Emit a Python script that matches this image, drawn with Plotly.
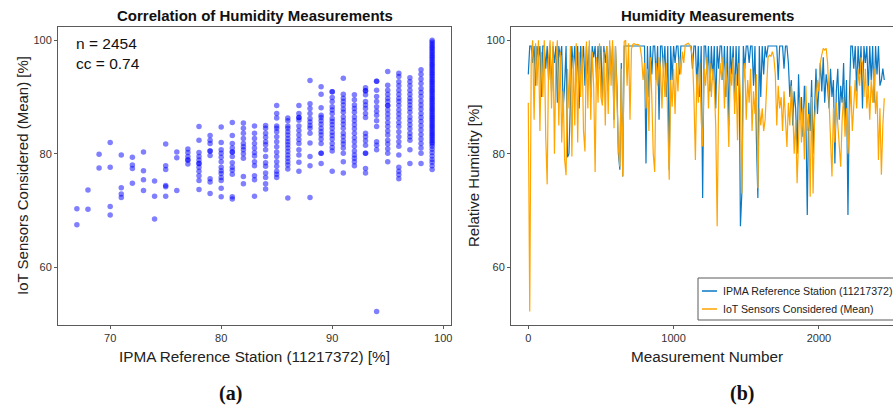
import plotly.graph_objects as go

# ---------------- Panel (a) data: scatter columns ----------------
ipma_levels = [67, 68, 69, 70, 71, 72, 73, 74, 75, 76, 77, 78, 79, 80, 81, 82, 83,
               84, 85, 86, 87, 88, 89, 90, 91, 92, 93, 94, 95, 96, 97, 98, 99]
iot_by_level = [
    [70.3, 67.5],
    [73.6, 70.2],
    [79.9, 77.5],
    [82.0, 77.6, 70.7, 69.2],
    [79.8, 74.0, 72.9, 72.3],
    [79.4, 78.0, 77.4, 74.8],
    [80.3, 77.0, 75.4, 73.5],
    [75.2, 72.5, 68.5],
    [81.7, 77.9, 77.2, 74.4, 74.2, 72.5],
    [80.3, 79.3, 73.5],
    [80.85, 80.2, 79.5, 78.9, 78.9, 78.2],
    [84.8, 82.4, 80.2, 79.5, 78.9, 78.3, 78.3, 77.6, 76.9, 76.1, 75.3, 73.7],
    [83.2, 82.4, 81.8, 80.5, 80.5, 79.7, 75.6, 75.0, 73.0],
    [84.7, 82.0, 80.7, 80.1, 79.4, 78.6, 77.6, 77.0, 76.5, 75.8, 75.3, 73.9, 72.4],
    [85.5, 83.2, 81.8, 81.0, 80.3, 80.3, 79.5, 78.4, 77.6, 77.1, 76.4, 72.4, 72.0],
    [85.4, 84.5, 83.6, 82.7, 81.8, 81.25, 80.7, 80.0, 79.2, 76.0, 74.7],
    [84.9, 83.6, 82.7, 81.8, 81.0, 80.2, 79.6, 78.6, 77.9, 76.1, 75.4, 72.5],
    [85.0, 84.5, 83.6, 82.9, 82.1, 81.6, 80.7, 79.5, 78.4, 77.8, 76.6, 75.8, 74.7, 73.8],
    [88.5, 87.1, 86.3, 84.9, 84.5, 83.9, 83.0, 82.1, 81.25, 80.3, 79.5, 78.6, 77.8, 76.9, 76.4, 75.8],
    [86.3, 85.8, 84.9, 84.5, 83.9, 83.3, 82.7, 82.1, 81.6, 81.0, 80.4, 79.8, 79.2, 78.6, 78.0, 77.3, 72.2],
    [88.5, 87.1, 86.4, 86.4, 85.9, 84.9, 84.1, 83.3, 82.5, 81.8, 80.7, 79.8, 78.5, 76.9],
    [92.9, 88.8, 88.0, 87.1, 86.2, 85.6, 85.0, 84.5, 83.6, 81.9, 79.5, 77.9, 72.3],
    [91.8, 90.5, 88.1, 86.8, 86.4, 85.8, 85.2, 84.5, 83.9, 83.3, 82.6, 81.8, 80.1, 80.1, 78.3],
    [90.95, 90.95, 89.9, 89.2, 88.3, 87.7, 87.1, 86.2, 85.7, 85.1, 84.5, 83.8, 83.2, 82.6,
     81.8, 81.1, 80.5, 76.9],
    [93.3, 90.5, 89.8, 89.2, 88.6, 87.9, 87.3, 86.5, 85.8, 85.2, 84.5, 83.6, 83.0, 82.3,
     81.7, 81.0, 80.1, 78.6, 76.6],
    [90.4, 89.5, 88.6, 88.0, 87.3, 86.5, 85.8, 85.1, 84.4, 83.6, 82.8, 82.1, 81.3, 80.5,
     79.8, 79.2, 78.6, 77.9],
    [91.65, 91.1, 91.1, 90.4, 89.2, 88.6, 88.0, 87.1, 86.4, 83.6, 83.0, 82.3, 81.5, 80.1,
     80.1, 77.4, 76.6],
    [92.8, 92.8, 91.2, 90.1, 89.2, 88.3, 87.5, 86.8, 85.8, 84.8, 82.1, 81.5, 80.7, 52.2],
    [94.5, 92.1, 91.2, 90.5, 89.8, 89.2, 88.5, 88.5, 87.7, 87.0, 86.3, 85.5, 84.8, 84.0,
     83.3, 82.4, 81.7, 80.9, 80.1, 78.6],
    [94.2, 93.6, 92.7, 92.0, 91.2, 90.5, 89.8, 89.2, 88.5, 87.7, 87.0, 86.3, 85.5, 84.8,
     83.9, 83.0, 82.1, 81.3, 79.8, 77.6, 76.9, 76.3, 75.6],
    [93.4, 92.7, 92.0, 91.2, 90.5, 89.8, 89.2, 88.6, 88.0, 87.3, 86.5, 85.8, 85.1, 84.4,
     83.6, 83.0, 82.4, 80.7, 78.3],
    [94.8, 94.0, 93.2, 92.4, 91.5, 90.8, 90.1, 89.3, 88.6, 87.9, 87.1, 86.4, 85.7, 84.95,
     84.2, 83.4, 82.6, 81.8, 81.0, 80.1, 78.3],
    [100.0, 99.7, 99.4, 99.1, 98.8, 98.5, 98.2, 97.9, 97.6, 97.3, 97.0, 96.7, 96.4, 96.1,
     95.8, 95.5, 95.2, 94.9, 94.6, 94.3, 94.0, 93.7, 93.4, 93.1, 92.8, 92.5, 92.2, 91.9,
     91.6, 91.3, 91.0, 90.7, 90.4, 90.1, 89.8, 89.5, 89.2, 88.9, 88.6, 88.3, 88.0, 87.7,
     87.4, 87.1, 86.8, 86.5, 86.2, 85.9, 85.6, 85.3, 85.0, 84.7, 84.4, 84.1, 83.8, 83.5,
     83.2, 82.9, 82.6, 82.3, 82.0, 81.7, 81.3, 80.8, 80.2, 79.6, 79.0, 78.5, 77.9, 77.2],
]
stat_n = 2454
stat_cc = 0.74

# ---------------- Panel (b) data: time series (every 10th measurement) ----------------
measurement_step = 10
iot_mean = [
    89, 52.2, 96, 100, 86, 99.5, 92, 100, 84, 98,
    90, 100, 83, 74.6, 97, 100, 88, 99.8, 80, 96,
    100, 85, 98, 82, 91, 79, 76.2, 95, 88, 99,
    79.5, 97, 85, 99.5, 82, 98, 90, 99, 84, 80.4,
    99.8, 88, 100, 86, 98, 92, 76.8, 97, 89, 99.5,
    90, 88.5, 98, 85, 99, 87, 100, 92, 100, 84.5,
    99, 90, 81, 77.7, 95, 76, 99.8, 100, 92, 99.5,
    86, 98.5, 99.3, 99.4, 99.2, 99.3, 99.2, 98.8, 97, 93,
    96, 88, 95, 84, 97, 90, 80, 76.8, 96, 92,
    97, 95, 88, 97, 90, 96, 85, 75.4, 93, 88.3,
    95, 87, 96, 91, 97, 94, 98, 96, 99.2, 99.4,
    99.5, 99.2, 98.5, 97, 90, 78.9, 94, 89, 96, 86,
    81.3, 95, 92, 97, 88, 96, 90, 95, 92, 85,
    67.2, 90, 96, 93, 97, 88, 96, 90, 81.2, 95,
    92, 97, 87, 94, 82.4, 96, 90, 73, 92, 96,
    86, 93, 89, 95, 84, 91, 87, 94, 73.9, 88,
    85, 88, 84, 86, 92, 97, 97.4, 97.2, 98, 97,
    94, 85, 92, 88, 90, 84, 91, 86, 81.2, 89,
    85, 92, 88, 80, 86, 74.8, 84, 90, 82, 88,
    79, 92, 84, 87, 72.4, 90, 73, 86, 89, 93,
    91, 96, 97.5, 98.6, 98.3, 98.6, 96, 90, 84, 76,
    88, 82, 89, 85, 80, 77.7, 86, 90, 83, 88,
    80, 86, 92, 84, 90, 93, 88, 95, 92, 97,
    96, 90, 95, 88, 92, 86, 93, 89, 95, 87,
    91, 78.9, 88, 76.3, 85, 89.8,
]
ipma_base = 99
ipma_dip_index = [
    0, 3, 5, 7, 9, 12, 14, 16, 18, 20, 22, 24, 25, 27, 28, 29, 31, 33, 35, 37,
    39, 41, 43, 45, 47, 49, 51, 53, 55, 57, 59, 61, 62, 63, 64, 65,
    81, 83, 85, 88, 90, 93, 95, 97, 99, 101, 104,
    113, 116, 118, 120, 123, 125, 127, 129, 131,
    134, 136, 138, 140, 142, 144, 146, 147, 149,
    152, 155, 157, 158, 160, 162, 164, 172, 176,
    179, 180, 181, 182, 183, 184, 185, 186, 187, 188, 189, 190, 191, 192, 193, 194,
    195, 196, 197, 198, 199, 200, 201, 202, 203, 204, 205, 206, 207, 208, 209, 210,
    211, 212, 213, 214, 215, 216, 217, 218, 219, 220, 221,
    224, 226, 228, 230, 232, 234, 236, 238, 240, 242, 243, 244, 245,
]
ipma_dip_value = [
    94, 96, 92, 97, 90, 95, 93, 91, 96, 89, 97, 88, 92, 79.4, 80, 90, 95, 93, 88, 96,
    92, 94, 90, 97, 93, 95, 89, 96, 91, 94, 86, 92, 80, 77.2, 96, 76,
    78.3, 90, 94, 93, 86, 95, 90, 77.2, 93, 96, 94,
    95, 92, 90, 72.2, 94, 91, 93, 88, 95,
    93, 90, 85, 94, 89, 92, 67.2, 73.3, 95,
    96, 92, 82.4, 72.2, 90, 94, 97, 93, 95,
    96, 90, 93, 85, 91, 88, 80, 94, 86, 90, 83, 92, 87, 69.2, 89, 84,
    93, 80, 90, 95, 87, 93, 96, 91, 97, 89, 94, 92, 88, 95, 90, 93,
    78.3, 91, 95, 86, 92, 89, 96, 85, 93, 69.2, 90,
    95, 91, 94, 88, 96, 91, 93, 89, 94, 92, 93, 95, 93,
]

# ---------------- build traces ----------------
sx, sy = [], []
for lvl, vals in zip(ipma_levels, iot_by_level):
    for v in vals:
        sx.append(lvl)
        sy.append(v)

n_pts = len(iot_mean)
meas = [i * measurement_step for i in range(n_pts)]
ipma_series = [ipma_base] * n_pts
for i, v in zip(ipma_dip_index, ipma_dip_value):
    ipma_series[i] = v

W, H = 893, 412
def px(x):
    return x / W
def py(y):
    return 1 - y / H

BLUE = "#0A78C2"
ORANGE = "#FFA500"
FRAME = "#5a5a5a"
FONT = "Liberation Sans, Arial, Helvetica, sans-serif"

fig = go.Figure()
fig.add_trace(go.Scatter(
    x=sx, y=sy, mode="markers",
    marker=dict(size=5.5, color="rgba(0,0,255,0.5)", line=dict(width=0)),
    xaxis="x", yaxis="y", showlegend=False, hoverinfo="skip"))
fig.add_trace(go.Scatter(
    x=meas, y=ipma_series, mode="lines", line=dict(color=BLUE, width=1.2),
    xaxis="x2", yaxis="y2", showlegend=False))
fig.add_trace(go.Scatter(
    x=meas, y=iot_mean, mode="lines", line=dict(color=ORANGE, width=1.2),
    xaxis="x2", yaxis="y2", showlegend=False))

y_dom = [py(325), py(27)]
common_axis = dict(showgrid=False, zeroline=False, showline=True, linecolor=FRAME,
                   linewidth=1, ticks="outside", ticklen=3, tickcolor=FRAME,
                   tickfont=dict(family=FONT, size=11, color="#333333"))

fig.update_layout(
    width=W, height=H, margin=dict(l=0, r=0, t=0, b=0),
    paper_bgcolor="white", plot_bgcolor="white",
    font=dict(family=FONT, color="#222222"),
    xaxis=dict(domain=[px(58), px(451)], range=[65.3, 100.7], tickvals=[70, 80, 90, 100],
               mirror=True, anchor="y", **common_axis),
    yaxis=dict(domain=y_dom, range=[49.8, 102.35], tickvals=[60, 80, 100],
               mirror=True, anchor="x", **common_axis),
    xaxis2=dict(domain=[px(511), 1.0], range=[-119, 2510], tickvals=[0, 1000, 2000],
                mirror=True, anchor="y2", **common_axis),
    yaxis2=dict(domain=y_dom, range=[49.8, 102.35], tickvals=[60, 80, 100],
                mirror=False, anchor="x2", **common_axis),
)

ann = []
ann.append(dict(text="<b>Correlation of Humidity Measurements</b>", x=px(254.5), y=py(15.5),
                font=dict(size=15, color="#111111")))
ann.append(dict(text="<b>Humidity Measurements</b>", x=px(707), y=py(15.5),
                font=dict(size=15, color="#111111")))
ann.append(dict(text="IPMA Reference Station (11217372) [%]", x=px(254.5), y=py(356),
                font=dict(size=15.3, color="#222222")))
ann.append(dict(text="Measurement Number", x=px(707), y=py(356),
                font=dict(size=15.3, color="#222222")))
ann.append(dict(text="IoT Sensors Considered (Mean) [%]", x=px(22), y=py(176),
                textangle=-90, font=dict(size=15, color="#222222")))
ann.append(dict(text="Relative Humidity [%]", x=px(473), y=py(176),
                textangle=-90, font=dict(size=15, color="#222222")))
ann.append(dict(text=f"n = {stat_n}", x=px(74), y=py(44), xanchor="left",
                font=dict(size=15.5, color="#111111")))
ann.append(dict(text=f"cc = {stat_cc}", x=px(74), y=py(63), xanchor="left",
                font=dict(size=15.5, color="#111111")))
ann.append(dict(text="<b>(a)</b>", x=px(230), y=py(393),
                font=dict(size=20, family="Liberation Serif, DejaVu Serif, serif", color="#111111")))
ann.append(dict(text="<b>(b)</b>", x=px(742), y=py(393),
                font=dict(size=20, family="Liberation Serif, DejaVu Serif, serif", color="#111111")))
# manual legend
legend_labels = ["IPMA Reference Station (11217372)", "IoT Sensors Considered (Mean)"]
legend_colors = [BLUE, ORANGE]
legend_rows = [291, 309]
shapes = [dict(type="rect", xref="paper", yref="paper", x0=px(698), x1=px(896),
               y0=py(320), y1=py(278), line=dict(color=FRAME, width=1), fillcolor="white",
               layer="above")]
for lab, col, row in zip(legend_labels, legend_colors, legend_rows):
    shapes.append(dict(type="line", xref="paper", yref="paper", x0=px(702), x1=px(717),
                       y0=py(row), y1=py(row), line=dict(color=col, width=1.5), layer="above"))
    ann.append(dict(text=lab, x=px(721), y=py(row), xanchor="left",
                    font=dict(size=10.6, color="#222222")))
for a in ann:
    a.setdefault("xref", "paper")
    a.setdefault("yref", "paper")
    a.setdefault("showarrow", False)
    a.setdefault("xanchor", "center")
    a.setdefault("yanchor", "middle")
fig.update_layout(annotations=ann, shapes=shapes)

fig.write_html("out.html", config={"displayModeBar": False},
               post_script="document.body.style.margin='0px';")
